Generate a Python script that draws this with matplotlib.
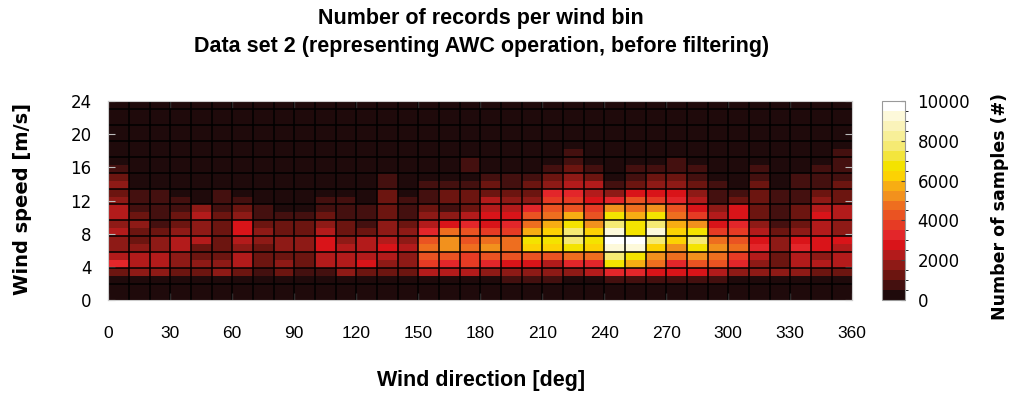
import matplotlib.pyplot as plt
import numpy as np
from matplotlib.colors import ListedColormap, BoundaryNorm

plt.rcParams['font.family'] = ['Liberation Sans Narrow', 'Liberation Sans', 'DejaVu Sans']

# bin edges: 10 deg direction sectors, speed bins (25 bins drawn over 0..24 m/s)
dir_edges = np.arange(0, 370, 10)
speed_edges = np.linspace(0, 24, 26)

# number of records, one list per direction sector (0-10, 10-20, ...),
# speed bins from bottom to top
counts = [
    [200, 300, 400, 1250, 3250, 2250, 1750, 1750, 2250, 1750, 2250, 2250, 1750, 1250, 1750, 1250, 750, 250, 150, 60, 40, 30, 20, 10, 10],
    [200, 300, 400, 1750, 2250, 2250, 1750, 1250, 1250, 1750, 1250, 750, 750, 750, 250, 200, 150, 100, 80, 60, 40, 30, 20, 10, 10],
    [200, 300, 400, 1750, 2250, 2250, 1750, 1750, 1250, 750, 750, 750, 750, 750, 250, 200, 150, 100, 80, 60, 40, 30, 20, 10, 10],
    [200, 300, 400, 1250, 1750, 1750, 2250, 2250, 1750, 1250, 1250, 750, 750, 300, 250, 200, 150, 100, 80, 60, 40, 30, 20, 10, 10],
    [200, 300, 400, 1250, 1750, 1250, 1250, 2250, 1750, 1750, 2250, 1750, 350, 300, 250, 200, 150, 100, 80, 60, 40, 30, 20, 10, 10],
    [200, 300, 400, 1750, 1750, 1250, 1250, 1250, 1250, 1250, 1250, 750, 750, 750, 250, 200, 150, 100, 80, 60, 40, 30, 20, 10, 10],
    [200, 300, 400, 1250, 2250, 2250, 1750, 2250, 2750, 2750, 1750, 1250, 750, 300, 250, 200, 150, 100, 80, 60, 40, 30, 20, 10, 10],
    [200, 300, 400, 750, 1250, 1250, 1250, 1750, 1750, 1250, 750, 750, 350, 300, 250, 200, 150, 100, 80, 60, 40, 30, 20, 10, 10],
    [200, 300, 400, 1250, 1750, 1250, 1750, 1750, 1250, 1250, 750, 400, 350, 300, 250, 200, 150, 100, 80, 60, 40, 30, 20, 10, 10],
    [200, 300, 400, 750, 1250, 1250, 1750, 1750, 1250, 1250, 750, 400, 350, 300, 250, 200, 150, 100, 80, 60, 40, 30, 20, 10, 10],
    [200, 300, 400, 750, 2250, 2250, 2750, 2750, 2250, 1750, 1250, 750, 750, 300, 250, 200, 150, 100, 80, 60, 40, 30, 20, 10, 10],
    [200, 300, 400, 1750, 2250, 2250, 2250, 1750, 1250, 1250, 750, 750, 750, 300, 250, 200, 150, 100, 80, 60, 40, 30, 20, 10, 10],
    [200, 300, 400, 1250, 2750, 2250, 2250, 2250, 1250, 750, 750, 750, 350, 300, 250, 200, 150, 100, 80, 60, 40, 30, 20, 10, 10],
    [200, 300, 400, 1250, 1750, 2250, 2750, 2250, 1750, 1750, 1250, 1250, 1250, 1250, 750, 750, 150, 100, 80, 60, 40, 30, 20, 10, 10],
    [200, 300, 400, 1250, 1750, 1750, 2250, 1750, 1750, 1250, 750, 750, 750, 300, 250, 200, 150, 100, 80, 60, 40, 30, 20, 10, 10],
    [200, 300, 400, 2250, 3750, 4250, 4750, 4250, 3250, 2250, 1750, 1250, 750, 750, 750, 200, 150, 100, 80, 60, 40, 30, 20, 10, 10],
    [200, 300, 400, 2250, 3250, 4250, 5250, 5250, 4750, 2750, 1750, 750, 1250, 1250, 750, 200, 150, 100, 80, 60, 40, 30, 20, 10, 10],
    [200, 300, 400, 2250, 3750, 3750, 4750, 4250, 4250, 3250, 2250, 1250, 1250, 1250, 750, 250, 750, 750, 80, 60, 40, 30, 20, 10, 10],
    [200, 300, 400, 1750, 3250, 4250, 5250, 4750, 3750, 2750, 2750, 2250, 2250, 1250, 1250, 750, 150, 100, 80, 60, 40, 30, 20, 10, 10],
    [200, 300, 750, 1750, 2750, 4250, 4750, 4750, 3750, 3250, 2750, 2250, 1750, 1250, 750, 750, 150, 100, 80, 60, 40, 30, 20, 10, 10],
    [200, 300, 750, 1750, 2750, 4250, 6250, 6750, 5750, 4750, 4250, 3250, 1750, 1250, 1250, 750, 150, 100, 80, 60, 40, 30, 20, 10, 10],
    [200, 300, 750, 1750, 2250, 4250, 6250, 6750, 6250, 5750, 4750, 4250, 3750, 3250, 1750, 1250, 750, 100, 80, 60, 40, 30, 20, 10, 10],
    [200, 300, 400, 1750, 3250, 4750, 6750, 7750, 7750, 6750, 5750, 4250, 3750, 3250, 2250, 1750, 1250, 750, 750, 60, 40, 30, 20, 10, 10],
    [200, 300, 400, 2250, 3250, 4750, 6250, 6750, 6250, 5250, 4250, 3750, 2750, 2250, 2250, 1250, 750, 100, 80, 60, 40, 30, 20, 10, 10],
    [200, 300, 750, 3250, 6750, 7750, 9250, 9750, 9250, 7750, 6750, 5250, 3250, 1750, 750, 200, 150, 100, 80, 60, 40, 30, 20, 10, 10],
    [200, 300, 750, 3250, 5750, 6750, 9250, 9750, 6750, 6750, 5750, 4750, 4250, 2750, 1250, 750, 750, 100, 80, 60, 40, 30, 20, 10, 10],
    [200, 300, 750, 2750, 4750, 5250, 6250, 7750, 9250, 7750, 6750, 5250, 3750, 2750, 1750, 1250, 750, 100, 80, 60, 40, 30, 20, 10, 10],
    [200, 300, 750, 2750, 3250, 4750, 5250, 6250, 6250, 5750, 4750, 4250, 3250, 2750, 1750, 1250, 750, 750, 80, 60, 40, 30, 20, 10, 10],
    [200, 300, 750, 2750, 4250, 5250, 6750, 7750, 6750, 5250, 3750, 2750, 2250, 1750, 1250, 750, 750, 100, 80, 60, 40, 30, 20, 10, 10],
    [200, 300, 750, 2250, 4250, 4750, 5250, 4750, 3750, 2750, 2250, 1750, 750, 750, 750, 200, 150, 100, 80, 60, 40, 30, 20, 10, 10],
    [200, 300, 400, 1750, 3250, 3750, 4750, 4250, 3750, 3250, 2750, 2750, 1250, 750, 250, 200, 150, 100, 80, 60, 40, 30, 20, 10, 10],
    [200, 300, 400, 1750, 1750, 2250, 3250, 2750, 2250, 1750, 1250, 1250, 1250, 1250, 1250, 750, 750, 100, 80, 60, 40, 30, 20, 10, 10],
    [200, 300, 400, 1750, 1250, 1250, 1750, 1750, 1250, 750, 750, 750, 750, 750, 250, 200, 150, 100, 80, 60, 40, 30, 20, 10, 10],
    [200, 300, 400, 1750, 2250, 2250, 3250, 2750, 1750, 1250, 1250, 1250, 750, 750, 750, 750, 150, 100, 80, 60, 40, 30, 20, 10, 10],
    [200, 300, 400, 1250, 2250, 1750, 2750, 2750, 2250, 2250, 2750, 2250, 1750, 1250, 750, 750, 750, 100, 80, 60, 40, 30, 20, 10, 10],
    [200, 300, 400, 1250, 2250, 2250, 2250, 2750, 1750, 1750, 2250, 2250, 1250, 1250, 1250, 750, 750, 750, 750, 60, 40, 30, 20, 10, 10],
]

# stepped palette of the colour bar (500 samples per step)
cb_levels = np.arange(0, 10500, 500)
cb_colors = ['#1f0a0b', '#44100f', '#6c1510', '#8e1a16', '#b31b1b',
             '#d91419', '#e3262a', '#e63b24', '#ea5322', '#ee6e1f',
             '#f2911d', '#f7ad13', '#fcd203', '#f4e300', '#f3e53c',
             '#f5ea73', '#f7ef98', '#faf3ba', '#fdf9da', '#ffffff']
cb_ticks = [0, 2000, 4000, 6000, 8000, 10000]

fig = plt.figure(figsize=(10.11, 3.94), dpi=100)
ax = fig.add_axes([0.107, 0.2386, 0.736, 0.505])
cax = fig.add_axes([0.8724, 0.2386, 0.0228, 0.505])

cmap = ListedColormap(cb_colors)
norm = BoundaryNorm(cb_levels, cmap.N)
mesh = ax.pcolormesh(dir_edges, speed_edges, np.array(counts).T, cmap=cmap, norm=norm)

# black cell borders: each sector, every second speed bin
ax.vlines(dir_edges[1:-1], 0, 24, colors='black', lw=1.1)
ax.hlines(speed_edges[2:-1:2], 0, 360, colors='black', lw=1.1)

ax.set_xlim(0, 360)
ax.set_ylim(0, 24)
ax.set_xticks(range(0, 361, 30))
ax.set_yticks(range(0, 25, 4))
ax.tick_params(axis='both', direction='in', length=5, color='#bbbbbb', top=True, right=True)
ax.tick_params(axis='x', labelsize=12.5, pad=19)
ax.tick_params(axis='y', labelsize=12, pad=12)
for lab in ax.get_yticklabels():
    lab.set_family('DejaVu Sans')
for sp in ax.spines.values():
    sp.set_color('#cccccc')

cb = fig.colorbar(mesh, cax=cax, ticks=cb_ticks)
cb.outline.set_edgecolor('#999999')
cax.tick_params(direction='in', length=3, color='#444444', labelsize=12, pad=9)
for lab in cax.get_yticklabels():
    lab.set_family('DejaVu Sans')
cb.set_label('Number of samples (#)', family='DejaVu Sans', weight='bold', fontsize=12.5,
             labelpad=15, y=0.47)

fig.text(0.476, 0.953, 'Number of records per wind bin', ha='center', va='center',
         weight='bold', fontsize=15.5)
fig.text(0.476, 0.882, 'Data set 2 (representing AWC operation, before filtering)',
         ha='center', va='center', weight='bold', fontsize=15.5)
fig.text(0.476, 0.033, 'Wind direction [deg]', ha='center', va='center',
         weight='bold', fontsize=15.5)
fig.text(0.022, 0.495, 'Wind speed [m/s]', ha='center', va='center', rotation=90,
         family='DejaVu Sans', weight='bold', fontsize=14)

fig.savefig('out.png', dpi=100)
